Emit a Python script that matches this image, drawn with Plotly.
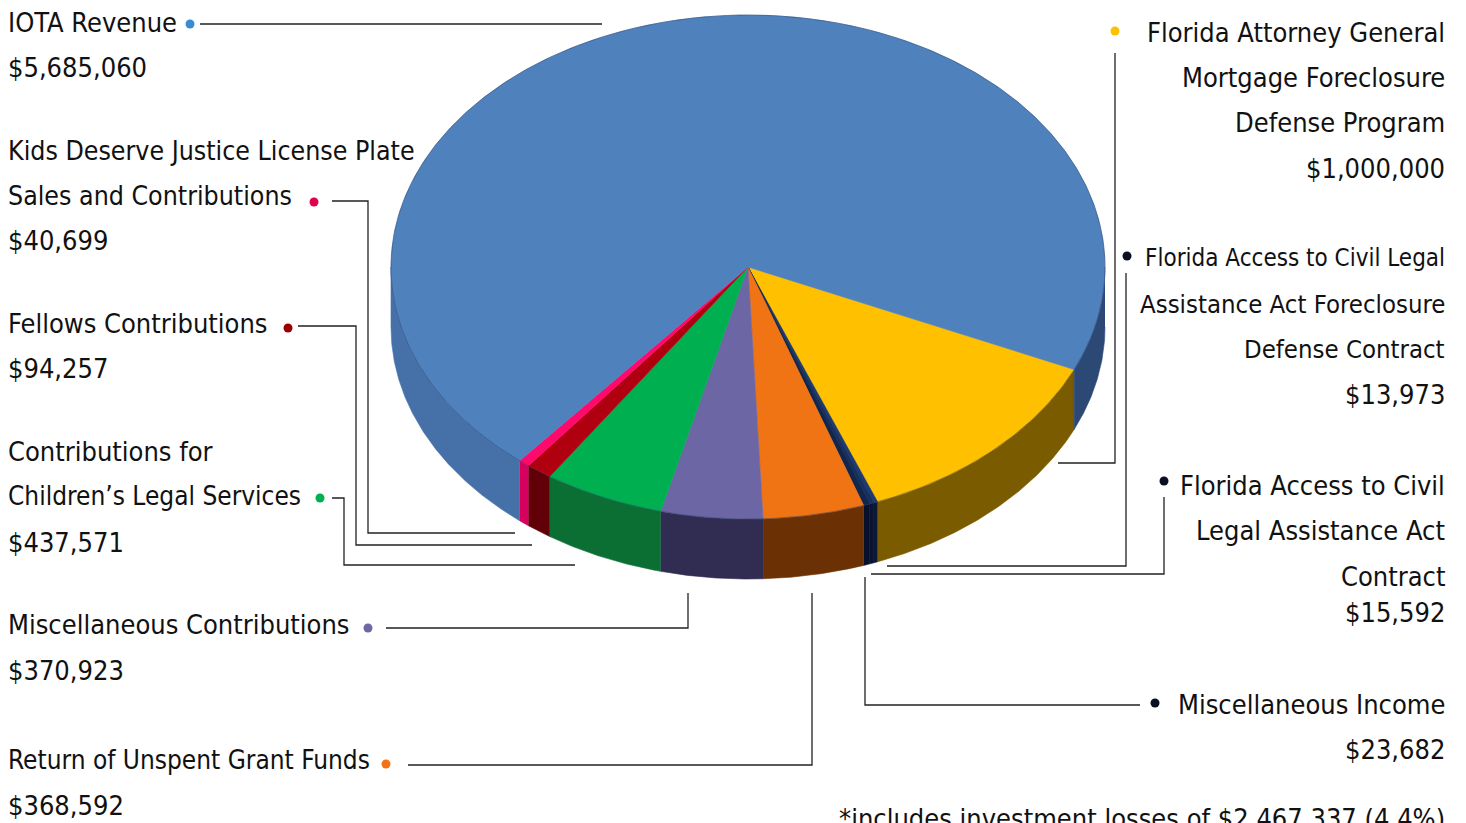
import numpy as np
import plotly.graph_objects as go

# ---------------- data ----------------
categories = [
    "Florida Attorney General Mortgage Foreclosure Defense Program",
    "Florida Access to Civil Legal Assistance Act Foreclosure Defense Contract",
    "Florida Access to Civil Legal Assistance Act Contract",
    "Miscellaneous Income",
    "Return of Unspent Grant Funds",
    "Miscellaneous Contributions",
    "Contributions for Children’s Legal Services",
    "Fellows Contributions",
    "Kids Deserve Justice License Plate Sales and Contributions",
    "IOTA Revenue",
]
values = [1000000, 13973, 15592, 23682, 368592, 370923, 437571, 94257, 40699, 5685060]
value_labels = ["$1,000,000", "$13,973", "$15,592", "$23,682", "$368,592",
                "$370,923", "$437,571", "$94,257", "$40,699", "$5,685,060"]
label_lines = [
    ["Florida Attorney General", "Mortgage Foreclosure", "Defense Program"],
    ["Florida Access to Civil Legal", "Assistance Act Foreclosure", "Defense Contract"],
    ["Florida Access to Civil", "Legal Assistance Act", "Contract"],
    ["Miscellaneous Income"],
    ["Return of Unspent Grant Funds"],
    ["Miscellaneous Contributions"],
    ["Contributions for", "Children’s Legal Services"],
    ["Fellows Contributions"],
    ["Kids Deserve Justice License Plate", "Sales and Contributions"],
    ["IOTA Revenue"],
]
footnote = "*includes investment losses of $2,467,337 (4.4%)"

# ---------------- styles ----------------
top_colors = ["#ffc000", "#1f3a6e", "#17305e", "#10264d", "#f07314",
              "#6d66a4", "#00b050", "#b0000f", "#ff0a6c", "#4f81bd"]
side_colors = ["#7a5b00", "#0c1838", "#0a1432", "#08102c", "#6b3104",
               "#302c52", "#0b6e33", "#620008", "#d6005e", "#4571a8"]
iota_right_side = "#2c4875"
dot_colors = ["#ffc000", "#0a0f22", "#0a0f22", "#0a0f22", "#f47216",
              "#6b68a2", "#00b050", "#9b0000", "#e0004e", "#3a8bd2"]

W, H = 1466, 823
CX, CY, RA, RB, DEPTH = 748, 267, 357, 252, 60
START = 114.0  # degrees clockwise from 12 o'clock

FONT = "DejaVu Sans Condensed, Liberation Sans Narrow, sans-serif"
FS = 27

# label layout: (side, text x, line y positions, dot xy, leader path, per-line font sizes)
layout_info = [
    ("R", 1447, [32, 77, 122, 168], (1115, 31), [(1115, 53), (1115, 463), (1058, 463)], [27, 27, 27, 27]),
    ("R", 1447, [258, 304, 349, 394], (1127, 256), [(1126, 273), (1126, 566), (887, 566)], [24, 25.5, 25.5, 27]),
    ("R", 1447, [485, 530, 576, 612], (1164, 481), [(1164, 497), (1164, 574), (871, 574)], [27, 27, 27, 27]),
    ("R", 1447, [704, 749], (1155, 703), [(1140, 705), (865, 705), (865, 577)], [27, 27]),
    ("L", 6, [760, 805], (386, 764), [(408, 765), (812, 765), (812, 593)], [26, 27]),
    ("L", 6, [624, 670], (368, 628), [(386, 628), (688, 628), (688, 593)], [27, 27]),
    ("L", 6, [451, 496, 542], (320, 498), [(332, 498), (344, 498), (344, 565), (575, 565)], [27, 26, 27]),
    ("L", 6, [323, 368], (288, 328), [(298, 326), (356, 326), (356, 545), (532, 545)], [27, 27]),
    ("L", 6, [150, 195, 240], (314, 202), [(332, 201), (368, 201), (368, 533), (515, 533)], [26.5, 26.5, 27]),
    ("L", 6, [22, 67], (190, 24), [(200, 24), (602, 24)], [27, 27]),
]


def ell(t_deg, dy=0.0):
    t = np.radians(t_deg)
    return CX + RA * np.sin(t), CY - RB * np.cos(t) + dy


fig = go.Figure()

total = float(sum(values))
angles = [START]
for v in values:
    angles.append(angles[-1] + 360.0 * v / total)

# side walls (front visible part only)
for i in range(len(values)):
    t0, t1 = angles[i], angles[i + 1]
    for k in (0, 360):
        lo, hi = max(t0, 90 + k), min(t1, 270 + k)
        if lo < hi:
            ts = np.linspace(lo, hi, max(3, int((hi - lo) * 3)))
            xt, yt = ell(ts)
            xb, yb = ell(ts[::-1], DEPTH)
            col = side_colors[i]
            if i == len(values) - 1 and k == 360:
                col = iota_right_side
            fig.add_trace(go.Scatter(
                x=np.concatenate([xt, xb]), y=np.concatenate([yt, yb]),
                fill="toself", fillcolor=col, mode="lines",
                line=dict(width=0.6, color=col), hoverinfo="skip"))

# top faces
for i in range(len(values)):
    t0, t1 = angles[i], angles[i + 1]
    ts = np.linspace(t0, t1, max(3, int((t1 - t0) * 3)))
    xs, ys = ell(ts)
    fig.add_trace(go.Scatter(
        x=np.concatenate([[CX], xs, [CX]]), y=np.concatenate([[CY], ys, [CY]]),
        fill="toself", fillcolor=top_colors[i], mode="lines",
        line=dict(width=0.6, color=top_colors[i]),
        name=categories[i], text=value_labels[i], hoverinfo="name+text"))

# outline of top rim
ts = np.linspace(0, 360, 721)
xs, ys = ell(ts)
fig.add_trace(go.Scatter(x=xs, y=ys, mode="lines",
                         line=dict(width=1, color="rgba(40,60,100,0.45)"),
                         hoverinfo="skip"))

# leader lines, dots, texts
for i, (side, tx, ylines, dot, path, sizes) in enumerate(layout_info):
    px = [p[0] for p in path]
    py = [p[1] for p in path]
    fig.add_trace(go.Scatter(x=px, y=py, mode="lines",
                             line=dict(color="#222222", width=1.3), hoverinfo="skip"))
    fig.add_trace(go.Scatter(x=[dot[0]], y=[dot[1]], mode="markers",
                             marker=dict(color=dot_colors[i], size=9), hoverinfo="skip"))
    lines = label_lines[i] + [value_labels[i]]
    for txt, yy, fs in zip(lines, ylines, sizes):
        fig.add_annotation(x=tx, y=yy, xref="x", yref="y", text=txt, showarrow=False,
                           xanchor="left" if side == "L" else "right", yanchor="middle",
                           font=dict(family=FONT, size=fs, color="#111111"))

fig.add_annotation(x=1447, y=801, xref="x", yref="y", text=footnote, showarrow=False,
                   xanchor="right", yanchor="top",
                   font=dict(family=FONT, size=FS, color="#111111"))

fig.update_layout(
    width=W, height=H, margin=dict(l=0, r=0, t=0, b=0),
    paper_bgcolor="white", plot_bgcolor="white", showlegend=False,
    xaxis=dict(range=[0, W], visible=False, fixedrange=True),
    yaxis=dict(range=[H, 0], visible=False, fixedrange=True),
)

fig.write_html("out.html")
